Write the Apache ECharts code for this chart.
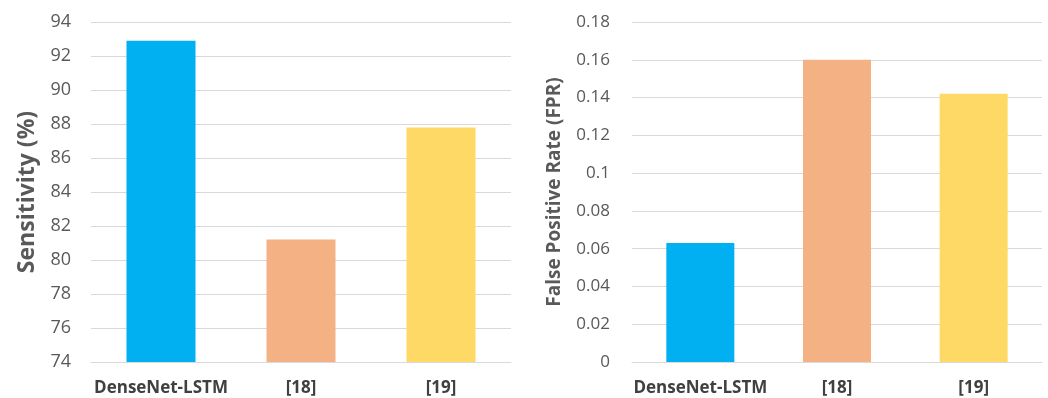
<!DOCTYPE html>
<html>
<head>
<meta charset="utf-8">
<script src="https://cdn.jsdelivr.net/npm/echarts@6/dist/echarts.min.js"></script>
<style>
  html, body { margin: 0; padding: 0; background: #fff; }
  #chart { width: 1048px; height: 398px; }
</style>
</head>
<body>
<div id="chart"></div>
<script>
// Method names on the x axis
const categories = ['DenseNet-LSTM', '[18]', '[19]'];
// Sensitivity in percent per method
const sensitivity = [92.9, 81.2, 87.8];
// False positive rate per method
const fpr = [0.063, 0.16, 0.142];
// Bar fill per method
const barColors = ['#00B0F0', '#F4B183', '#FFD966'];

const FONT = '"Open Sans", "Noto Sans", sans-serif';

function coloured(values) {
  return values.map((v, i) => ({ value: v, itemStyle: { color: barColors[i] } }));
}

function catAxis(gridIndex) {
  return {
    type: 'category',
    gridIndex,
    data: categories,
    axisLine: { show: true, lineStyle: { color: '#D9D9D9', width: 1 } },
    axisTick: { show: false },
    axisLabel: {
      interval: 0,
      color: '#404040', fontFamily: FONT, fontWeight: 'bold', fontSize: 17, margin: 18
    }
  };
}

function valAxis(gridIndex, min, max, interval, name, nameSize, nameGap, labelSize, labelMargin) {
  return {
    type: 'value',
    gridIndex, min, max, interval,
    name, nameLocation: 'middle', nameGap,
    nameTextStyle: { color: '#595959', fontFamily: FONT, fontWeight: 'bold', fontSize: nameSize },
    axisLine: { show: false },
    axisTick: { show: false },
    axisLabel: { color: '#595959', fontFamily: FONT, fontSize: labelSize, margin: labelMargin },
    splitLine: { lineStyle: { color: '#D9D9D9', width: 1 } }
  };
}

const chart = echarts.init(document.getElementById('chart'), null, { renderer: 'canvas' });
chart.setOption({
  backgroundColor: '#ffffff',
  animation: false,
  grid: [
    { left: 91, right: 537, top: 22, bottom: 36 },
    { left: 632, right: 6, top: 22, bottom: 36 }
  ],
  xAxis: [catAxis(0), catAxis(1)],
  yAxis: [
    valAxis(0, 74, 94, 2, 'Sensitivity (%)', 23, 52, 18, 20),
    valAxis(1, 0, 0.18, 0.02, 'False Positive Rate (FPR)', 19, 68, 17, 22)
  ],
  series: [
    { type: 'bar', xAxisIndex: 0, yAxisIndex: 0, barWidth: 69, data: coloured(sensitivity) },
    { type: 'bar', xAxisIndex: 1, yAxisIndex: 1, barWidth: 68, data: coloured(fpr) }
  ]
});
</script>
</body>
</html>
